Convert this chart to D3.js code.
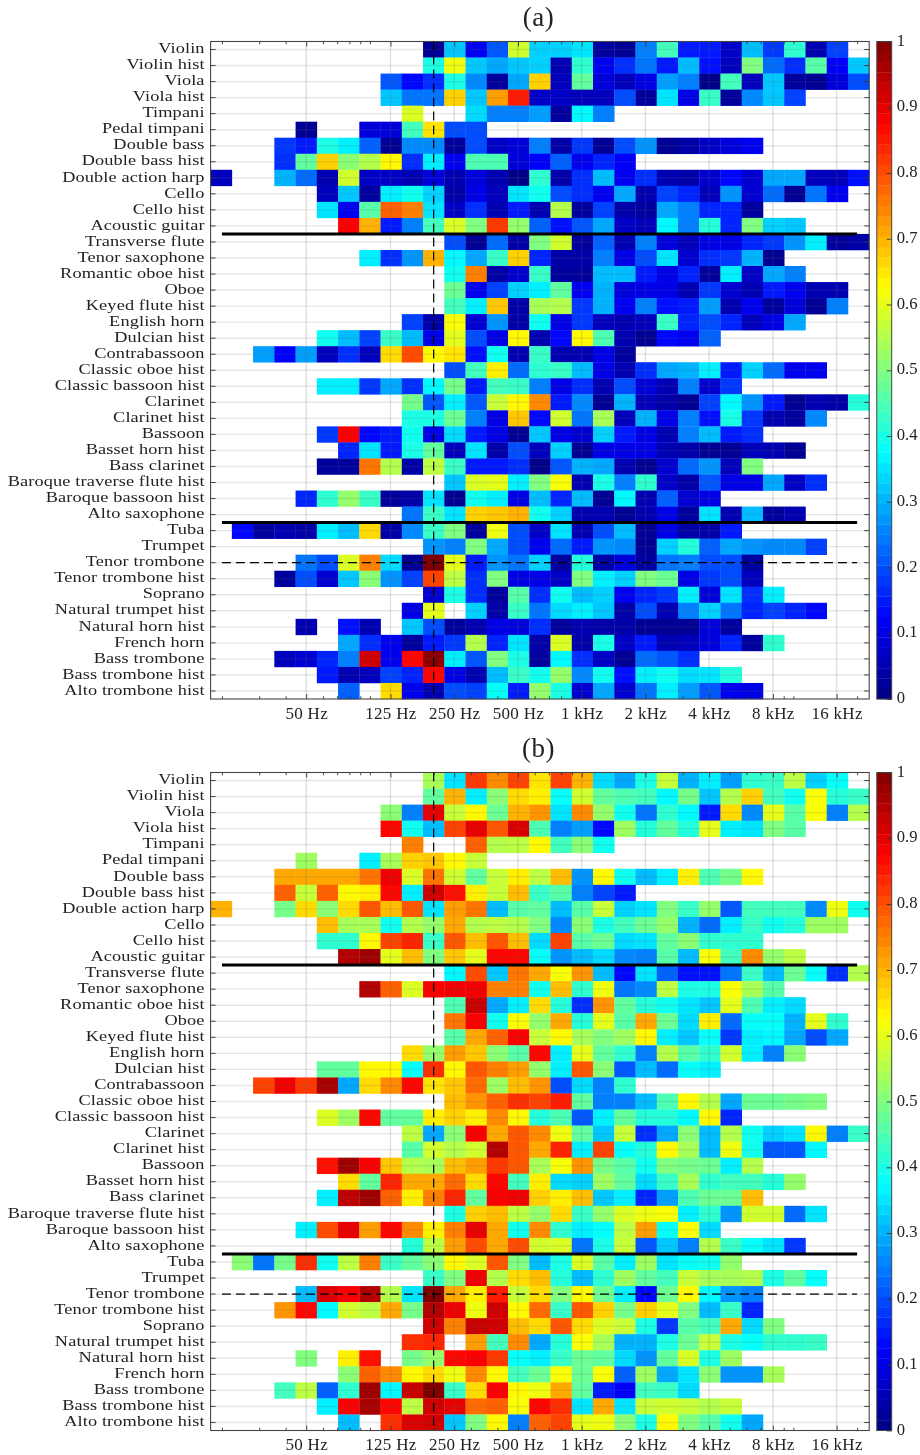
<!DOCTYPE html>
<html><head><meta charset="utf-8">
<script src="https://cdn.jsdelivr.net/npm/d3@7"></script>
<style>html,body{margin:0;padding:0;background:#fff}svg{display:block;filter:blur(.35px)}
text{font-family:"Liberation Serif",serif;fill:#222}</style></head>
<body><div id="chart"></div>
<script>
const _ = null;
const at = (start, ...v) => Array(start).fill(_).concat(v);
const instruments = ["Violin","Violin hist","Viola","Viola hist","Timpani","Pedal timpani","Double bass","Double bass hist","Double action harp","Cello","Cello hist","Acoustic guitar","Transverse flute","Tenor saxophone","Romantic oboe hist","Oboe","Keyed flute hist","English horn","Dulcian hist","Contrabassoon","Classic oboe hist","Classic bassoon hist","Clarinet","Clarinet hist","Bassoon","Basset horn hist","Bass clarinet","Baroque traverse flute hist","Baroque bassoon hist","Alto saxophone","Tuba","Trumpet","Tenor trombone","Tenor trombone hist","Soprano","Natural trumpet hist","Natural horn hist","French horn","Bass trombone","Bass trombone hist","Alto trombone hist"];
const bands = d3.range(31);
const majorFreqs = [50,125,250,500,1000,2000,4000,8000,16000];
const majorLabels = ["50 Hz","125 Hz","250 Hz","500 Hz","1 kHz","2 kHz","4 kHz","8 kHz","16 kHz"];
const minorFreqs = [20,30,40,60,70,80,90,100,200,300,400,600,700,800,900,3000,5000,6000,7000,9000,10000,20000];
const barTicks = [0,.1,.2,.3,.4,.5,.6,.7,.8,.9,1];
const familyBreaks = ["Transverse flute","Tuba"];
const markedInstrument = "Tenor trombone";
const markedFreq = 200;

const valuesA = [
at(10,.02,.32,.11,.21,.58,.33,.33,.35,.03,.02,.25,.44,.15,.15,.07,.31,.18,.42,.05,.19),
at(10,.40,.61,.32,.29,.32,.33,.05,.42,.11,.17,.24,.15,.31,.14,.06,.50,.23,.17,.46,.12,.32),
at(8,.21,.13,.17,.40,.26,.03,.29,.67,.06,.47,.09,.06,.10,.28,.25,.01,.44,.06,.32,.03,.02,.09,.20),
at(8,.32,.24,.24,.67,.32,.72,.85,.07,.07,.06,.06,.20,.03,.35,.10,.43,.03,.26,.32,.19),
at(9,.59,_,_,.34,.25,.25,.28,.03,.37,.25),
at(4,.02,_,_,.09,.09,.44,.65,.20,.20),
at(3,.18,.15,.40,.36,.22,.02,.26,.26,.03,.20,.07,.09,.25,.04,.18,.02,.20,.27,.02,.04,.07,.09,.11),
at(3,.17,.47,.67,.51,.55,.63,.17,.36,.11,.45,.45,.09,.12,.22,.11,.16,.12),
at(0,.06,_,_,.30,.23,.05,.58,.07,.07,.05,.09,.05,.09,.05,.01,.42,.04,.17,.31,.11,.17,.05,.04,.08,.13,.08,.29,.29,.06,.06,.14),
at(5,.06,.32,.03,.36,.39,.33,.04,.10,.06,.35,.39,.20,.17,.11,.29,.05,.19,.16,.06,.27,.08,.23,.02,.24,.11),
at(5,.35,.11,.46,.78,.75,.35,.07,.17,.05,.15,.05,.55,.03,.19,.04,.03,.29,.25,.16,.16,.03),
at(6,.88,.70,.15,.25,.44,.59,.50,.82,.52,.22,.14,.21,.29,.07,.06,.37,.25,.41,.16,.50,.33,.32),
at(11,.20,.02,.23,.04,.50,.58,.03,.22,.05,.25,.09,.06,.10,.10,.16,.18,.27,.36,.03,.04),
at(7,.36,.17,.27,.70,.37,.29,.43,.67,.16,.04,.04,.25,.10,.20,.35,.08,.17,.18,.30,.02),
at(11,.39,.75,.04,.08,.43,.03,.03,.31,.31,.15,.10,.16,.03,.36,.07,.29,.25),
at(11,.48,.11,.19,.33,.36,.47,.11,.30,.09,.10,.10,.05,.18,.08,.05,.15,.11,.05,.05),
at(11,.44,.36,.68,.04,.54,.55,.18,.30,.11,.25,.14,.15,.28,.05,.11,.03,.09,.02,.25),
at(9,.19,.04,.62,.08,.27,.04,.39,.10,.18,.06,.05,.06,.43,.16,.20,.16,.06,.10,.29),
at(5,.39,.31,.19,.43,.31,.10,.60,.20,.10,.63,.05,.13,.63,.45,.05,.02,.13,.11,.22),
at(2,.28,.12,.28,.06,.17,.06,.66,.80,.63,.65,.14,.39,.05,.43,.05,.05,.10,.03),
at(11,.20,.44,.64,.23,.42,.43,.31,.10,.05,.17,.29,.30,.36,.15,.33,.23,.11,.11),
at(5,.36,.36,.18,.29,.17,.37,.49,.15,.44,.43,.25,.10,.17,.05,.20,.09,.05,.25,.08,.18),
at(9,.49,.21,.36,.21,.57,.63,.74,.15,.26,.02,.30,.06,.04,.02,.19,.37,.27,.15,.02,.05,.04,.41),
at(9,.40,.40,.48,.25,.10,.68,.13,.58,.24,.54,.06,.30,.10,.25,.14,.40,.18,.05,.03,.26),
at(5,.18,.88,.13,.15,.39,.10,.34,.15,.10,.02,.32,.10,.08,.33,.15,.10,.05,.25,.31,.15,.17),
at(6,.16,.35,.15,.40,.47,.06,.35,.04,.20,.06,.33,.02,.10,.10,.10,.05,.04,.02,.02,.06,.05,.02),
at(5,.03,.03,.76,.55,.04,.56,.43,.15,.15,.17,.01,.21,.30,.29,.05,.02,.08,.23,.27,.06,.50),
at(11,.32,.59,.60,.36,.50,.62,.05,.40,.25,.42,.07,.04,.21,.10,.10,.29,.07,.17),
at(4,.16,.42,.52,.43,.03,.04,.35,.02,.39,.36,.10,.31,.16,.31,.02,.37,.05,.22,.08,.10),
at(9,.24,.43,.35,.67,.68,.70,.39,.33,.05,.05,.02,.05,.10,.03,.35,.05,.31,.03,.05),
at(1,.13,.03,.05,.04,.36,.31,.66,.04,.26,.43,.50,.03,.61,.20,.07,.35,.05,.20,.31,.02,.10,.04,.04,.15),
at(10,.27,.25,.50,.29,.20,.11,.23,.15,.27,.26,.02,.33,.41,.22,.29,.27,.26,.26,.19),
at(4,.24,.20,.59,.75,.34,.02,1,.60,.15,.27,.24,.33,.03,.41,.04,.09,.03,.24,.25,.20,.20,.03),
at(3,.03,.20,.08,.32,.51,.27,.19,.81,.56,.17,.50,.10,.10,.07,.50,.36,.33,.50,.48,.10,.18,.20,.06),
at(10,.08,.40,.17,.03,.46,.17,.39,.31,.33,.11,.16,.18,.36,.09,.35,.17,.36),
at(9,.10,.60,_,.33,.04,.43,.24,.34,.36,.32,.04,.20,.05,.25,.33,.24,.16,.19,.16,.13),
at(4,.05,_,.14,.05,_,.32,.20,.03,.05,.10,.09,.17,.03,.05,.04,.04,.02,.02,.02,.09,.03),
at(6,.29,.17,.11,.03,.15,.18,.55,.16,.35,.04,.59,.04,.40,.07,.15,.05,.06,.09,.16,.03,.42),
at(3,.06,.08,.16,.25,.92,.11,.87,.99,.36,.21,.50,.40,.03,.37,.17,.07,.02,.23,.21,.17),
at(5,.15,.05,.06,.19,.16,.87,.10,.05,.31,.43,.39,.52,.26,.39,.14,.36,.39,.34,.35,.41),
at(6,.22,_,.66,.11,.05,.20,.19,.38,.15,.52,.40,.08,.29,.08,.24,.36,.28,.21,.11,.10)
];

const valuesB = [
at(10,.54,.35,.82,.74,.81,.65,.81,.70,.34,.29,.40,.57,.30,.36,.28,.42,.43,.56,.33,.38),
at(10,.47,.70,.36,.51,.66,.64,.38,.58,.47,.45,.44,.37,.49,.32,.55,.67,.44,.39,.62,.41,.43),
at(8,.51,.25,.90,.57,.63,.48,.70,.73,.35,.74,.52,.39,.24,.42,.37,.15,.66,.26,.60,.46,.62,.25,.55),
at(8,.87,.39,.31,.81,.90,.79,.91,.45,.25,.28,.13,.53,.41,.47,.41,.60,.36,.35,.50,.46),
at(9,.75,_,_,.78,.55,.56,.63,.44,.51,.39),
at(4,.53,_,_,.36,.54,.67,.68,.63,.57),
at(3,.71,.71,.71,.71,.76,.89,.59,.76,.58,.47,.57,.64,.56,.69,.27,.63,.39,.31,.36,.64,.45,.49,.63),
at(3,.78,.57,.78,.63,.64,.87,.36,.92,.86,.64,.57,.69,.43,.46,.25,.19,.15),
at(0,.70,_,_,.49,.66,.51,.66,.79,.69,.79,.35,.72,.76,.31,.46,.47,.31,.46,.57,.33,.35,.50,.43,.52,.21,.44,.44,.44,.26,.61,.39),
at(5,.69,.54,.54,.39,.55,.52,.71,.55,.56,.55,.50,.26,.51,.40,.44,.48,.52,.30,.23,.36,.43,.39,.41,.53,.53),
at(5,.42,.42,.63,.81,.84,.43,.79,.69,.79,.69,.34,.81,.46,.48,.34,.35,.47,.51,.42,.42,.42),
at(6,.95,.97,.60,.69,.50,.68,.60,.87,.87,.38,.27,.31,.34,.26,.25,.46,.31,.62,.44,.74,.52,.56),
at(11,.37,.80,.32,.76,.71,.62,.73,.31,.13,.35,.22,.14,.14,.24,.43,.31,.48,.38,.17,.55),
at(7,.95,.78,.59,.88,.89,.89,.75,.75,.39,.69,.42,.61,.24,.26,.56,.40,.40,.62,.54,.46),
at(11,.45,.93,.29,.36,.66,.41,.17,.73,.47,.41,.39,.35,.32,.60,.45,.36,.34),
at(11,.76,.88,.39,.62,.52,.71,.41,.60,.46,.71,.48,.34,.64,.23,.38,.38,.30,.60,.42),
at(11,.46,.71,.78,.88,.57,.63,.54,.50,.53,.63,.36,.32,.38,.18,.36,.37,.29,.20,.29),
at(9,.66,.52,.72,.68,.51,.46,.87,.36,.60,.47,.42,.25,.55,.46,.42,.58,.36,.25,.51),
at(5,.47,.47,.63,.63,.38,.83,.63,.79,.75,.72,.52,.36,.79,.51,.21,.31,.23,.38,.36),
at(2,.81,.89,.82,.96,.29,.66,.74,.87,.65,.68,.77,.53,.69,.73,.20,.34,.25,.42),
at(11,.69,.73,.78,.83,.81,.85,.47,.25,.25,.31,.45,.63,.55,.29,.48,.48,.49,.50),
at(5,.59,.53,.87,.47,.47,.64,.67,.64,.74,.63,.41,.45,.21,.36,.47,.41,.41,.37,.63,.16),
at(9,.56,.29,.51,.88,.71,.79,.74,.61,.47,.32,.57,.17,.29,.51,.31,.55,.39,.33,.35,.63,.25,.43),
at(9,.46,.58,.55,.58,.95,.79,.71,.84,.36,.81,.38,.41,.63,.54,.31,.61,.39,.21,.21,.37),
at(5,.86,.97,.88,.68,.55,.54,.69,.72,.82,.79,.54,.62,.73,.49,.46,.39,.50,.49,.48,.36,.55),
at(6,.66,.47,.84,.71,.71,.77,.66,.87,.44,.64,.34,.33,.53,.47,.34,.43,.54,.42,.44,.44,.41,.52),
at(5,.36,.94,.97,.78,.64,.75,.84,.47,.88,.89,.67,.64,.69,.32,.36,.16,.28,.45,.48,.48,.69),
at(11,.40,.67,.69,.56,.52,.66,.43,.52,.59,.61,.62,.36,.42,.27,.58,.58,.23,.35),
at(4,.36,.80,.90,.72,.87,.74,.64,.75,.90,.71,.39,.74,.42,.36,.38,.56,.72,.38,.62,.34),
at(9,.41,.56,.72,.80,.71,.80,.58,.59,.24,.40,.57,.21,.32,.25,.55,.43,.38,.35,.18),
at(1,.51,.24,.49,.83,.39,.56,.75,.43,.47,.51,.63,.59,.79,.50,.31,.40,.59,.46,.36,.53,.35,.38,.39,.52),
at(10,.43,.50,.89,.55,.66,.69,.41,.31,.42,.53,.47,.44,.57,.54,.54,.55,.40,.47,.38),
at(4,.31,.91,.88,.95,.55,.35,1,.71,.64,.85,.57,.66,.50,.63,.48,.36,.13,.48,.63,.37,.27,.25),
at(3,.73,.87,.37,.58,.56,.71,.49,.95,.89,.61,.92,.63,.77,.43,.79,.67,.49,.67,.60,.50,.31,.43,.16),
at(10,.92,.75,.93,.92,.69,.66,.79,.66,.59,.57,.40,.18,.46,.44,.71,.34,.50),
at(9,.83,.84,_,.72,.44,.74,.29,.41,.62,.54,.30,.30,.40,.48,.57,.40,.38,.42,.42,.43),
at(4,.50,_,.64,.86,_,.49,.52,.87,.88,.82,.38,.36,.43,.48,.47,.34,.27,.47,.59,.40,.53),
at(6,.51,.78,.74,.63,.66,.61,.74,.63,.44,.48,.62,.48,.62,.22,.53,.29,.35,.51,.27,.27,.54),
at(3,.44,.56,.22,.42,.97,.37,.93,1,.43,.66,.88,.63,.61,.71,.47,.15,.12,.44,.43,.34),
at(5,.36,.88,.96,.87,.56,.92,.90,.77,.78,.62,.87,.83,.35,.71,.35,.57,.58,.57,.55,.57),
at(6,.31,_,.83,.91,.92,.32,.50,.63,.25,.78,.81,.60,.61,.51,.40,.63,.50,.46,.39,.29)
];

const panels = [
  {title:"(a)", values:valuesA, top:41.5, bottom:699, titleY:26},
  {title:"(b)", values:valuesB, top:772.5, bottom:1430.5, titleY:757}
];
const left = 210.6, right = 869.2, barL = 876.8, barR = 891.7;

const jet = d3.scaleLinear()
  .domain([0,.125,.375,.625,.875,1])
  .range(["#000080","#0000ff","#00ffff","#ffff00","#ff0000","#800000"]);

const svg = d3.select("#chart").append("svg").attr("width",920).attr("height",1455);
const xBand = d3.scaleBand().domain(bands).range([left,right]);
const colW = xBand.bandwidth();
const xFreq = d3.scaleLog()
  .domain([50/Math.pow(2,4.5/3), 50*Math.pow(2,26.5/3)])
  .range([left,right]);
const lineFrom = xFreq(20), lineTo = xFreq(20000);

panels.forEach(p => {
  const y = d3.scaleBand().domain(instruments).range([p.top,p.bottom]);
  const g = svg.append("g");
  // cells
  p.values.forEach((row,ri) => {
    g.append("g").selectAll("rect")
      .data(row.map((v,c)=>({v,c})).filter(d=>d.v!==null))
      .join("rect")
      .attr("x",d=>xBand(d.c)).attr("y",y(instruments[ri]))
      .attr("width",colW+.3).attr("height",y.bandwidth()+.3)
      .attr("fill",d=>jet(d.v));
  });
  // grid
  g.append("g").selectAll("line").data(instruments).join("line")
    .attr("x1",left).attr("x2",right)
    .attr("y1",d=>y(d)+y.bandwidth()/2).attr("y2",d=>y(d)+y.bandwidth()/2)
    .attr("stroke","#666").attr("stroke-opacity",.16).attr("stroke-width",1.4);
  g.append("g").selectAll("line").data(majorFreqs).join("line")
    .attr("x1",d=>xFreq(d)).attr("x2",d=>xFreq(d))
    .attr("y1",p.top).attr("y2",p.bottom)
    .attr("stroke","#666").attr("stroke-opacity",.2).attr("stroke-width",1.4);
  // axes
  const styleAxis = s => { s.select(".domain").remove(); s.selectAll("line").attr("stroke","#333").attr("stroke-width",.9); };
  const la = g.append("g").attr("transform",`translate(${left},0)`)
    .call(d3.axisLeft(y).tickSizeInner(-5).tickSizeOuter(0).tickPadding(6));
  styleAxis(la);
  la.selectAll("text").attr("font-size",15.4).attr("font-family","Liberation Serif").attr("fill","#222")
    .attr("letter-spacing",.1).attr("dy",".24em").attr("x",-6/1.19).attr("transform","scale(1.19,1)");
  const ra = g.append("g").attr("transform",`translate(${right},0)`)
    .call(d3.axisRight(y).tickSizeInner(-5).tickSizeOuter(0).tickFormat(""));
  styleAxis(ra);
  const labelOf = d => majorLabels[majorFreqs.indexOf(d)];
  const ba = g.append("g").attr("transform",`translate(0,${p.bottom})`)
    .call(d3.axisBottom(xFreq).tickValues(majorFreqs).tickFormat(labelOf).tickSizeInner(-5).tickSizeOuter(0).tickPadding(7.5));
  styleAxis(ba);
  ba.selectAll("text").attr("font-size",17).attr("font-family","Liberation Serif").attr("fill","#222").attr("letter-spacing",.3);
  styleAxis(g.append("g").attr("transform",`translate(0,${p.bottom})`)
    .call(d3.axisBottom(xFreq).tickValues(minorFreqs).tickFormat("").tickSizeInner(-2.8).tickSizeOuter(0)));
  styleAxis(g.append("g").attr("transform",`translate(0,${p.top})`)
    .call(d3.axisTop(xFreq).tickValues(majorFreqs).tickFormat("").tickSizeInner(-5).tickSizeOuter(0)));
  styleAxis(g.append("g").attr("transform",`translate(0,${p.top})`)
    .call(d3.axisTop(xFreq).tickValues(minorFreqs).tickFormat("").tickSizeInner(-2.8).tickSizeOuter(0)));
  // box
  g.append("rect").attr("x",left).attr("y",p.top).attr("width",right-left).attr("height",p.bottom-p.top)
    .attr("fill","none").attr("stroke","#444").attr("stroke-width",1.1);
  // separators
  g.append("g").selectAll("line").data(familyBreaks).join("line")
    .attr("x1",lineFrom).attr("x2",lineTo).attr("y1",d=>y(d)).attr("y2",d=>y(d))
    .attr("stroke","#000").attr("stroke-width",3);
  g.append("line").attr("x1",lineFrom).attr("x2",lineTo)
    .attr("y1",y(markedInstrument)+y.bandwidth()/2).attr("y2",y(markedInstrument)+y.bandwidth()/2)
    .attr("stroke","#000").attr("stroke-width",1.2).attr("stroke-dasharray","9 5");
  g.append("line").attr("x1",xFreq(markedFreq)).attr("x2",xFreq(markedFreq))
    .attr("y1",p.top).attr("y2",p.bottom)
    .attr("stroke","#000").attr("stroke-width",1.2).attr("stroke-dasharray","9 5");
  // title
  g.append("text").attr("x",538.5).attr("y",p.titleY).attr("text-anchor","middle")
    .attr("font-size",27).attr("letter-spacing",.5).text(p.title);
  // colour bar
  const yBar = d3.scaleLinear().domain([0,1]).range([p.bottom,p.top]);
  const steps = d3.range(64);
  g.append("g").selectAll("rect").data(steps).join("rect")
    .attr("x",barL).attr("width",barR-barL)
    .attr("y",i=>yBar((i+1)/64)).attr("height",i=>yBar(i/64)-yBar((i+1)/64)+.3)
    .attr("fill",i=>jet((i+.5)/64));
  const ca = g.append("g").attr("transform",`translate(${barR},0)`)
    .call(d3.axisRight(yBar).tickValues(barTicks).tickFormat(d3.format("~g")).tickSizeInner(-5).tickSizeOuter(0).tickPadding(5));
  styleAxis(ca);
  ca.selectAll("text").attr("font-size",16.6).attr("font-family","Liberation Serif").attr("fill","#222").attr("dy",".22em");
  g.append("rect").attr("x",barL).attr("y",p.top).attr("width",barR-barL).attr("height",p.bottom-p.top)
    .attr("fill","none").attr("stroke","#444").attr("stroke-width",1);
});
</script></body></html>
